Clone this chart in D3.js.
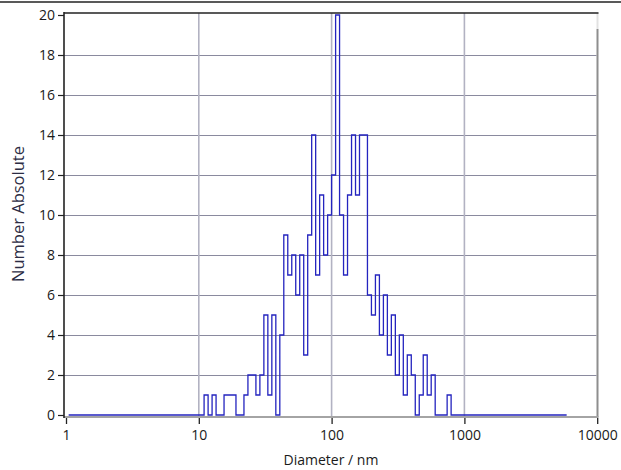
<!DOCTYPE html>
<html>
<head>
<meta charset="utf-8">
<script src="https://cdn.jsdelivr.net/npm/d3@7"></script>
<style>
  html, body { margin: 0; padding: 0; background: #fff; }
  svg { display: block; }
  text { font-family: "Open Sans", "Noto Sans", sans-serif; }
</style>
</head>
<body>
<svg id="chart" width="621" height="470"></svg>
<script>
// ---- Data ----
// Lower edges of the histogram classes (nm), plus the final upper edge
const binEdges = [10.96, 11.75, 12.59, 13.49, 14.45, 15.49, 16.60, 17.78, 19.05, 20.42,
  21.88, 23.44, 25.12, 26.92, 28.84, 30.90, 33.11, 35.48, 38.02, 40.74,
  43.65, 46.77, 50.12, 53.70, 57.54, 61.66, 66.07, 70.79, 75.86, 81.28,
  87.10, 93.33, 100.0, 107.2, 114.8, 123.0, 131.8, 141.3, 151.4, 162.2,
  173.8, 186.2, 199.5, 213.8, 229.1, 245.5, 263.0, 281.8, 302.0, 323.6,
  346.7, 371.5, 398.1, 426.6, 457.1, 489.8, 524.8, 562.3, 602.6, 645.7,
  691.8, 741.3, 794.3];
// Number absolute per class
const counts = [1, 0, 1, 0, 0, 1, 1, 1, 0, 0,
  1, 2, 2, 1, 2, 5, 1, 5, 0, 4,
  9, 7, 8, 6, 8, 3, 9, 14, 7, 11,
  8, 10, 12, 20, 10, 7, 11, 14, 11, 14,
  14, 6, 5, 7, 4, 6, 3, 5, 2, 4,
  1, 3, 2, 0, 1, 3, 1, 2, 0, 0,
  0, 1];
// Extent of the (zero) distribution line
const rangeStartNm = 1.047;
const rangeEndNm = 5888;
const xTicks = [1, 10, 100, 1000, 10000];
const yTicks = [0, 2, 4, 6, 8, 10, 12, 14, 16, 18, 20];
const xTitle = "Diameter / nm";
const yTitle = "Number Absolute";

// ---- Drawing ----
const svg = d3.select("#chart");
const x = d3.scaleLog().domain([1, 10000]).range([66, 597.2]);
const y = d3.scaleLinear().domain([0, 20]).range([415, 15]);

const plotTop = 13, plotBottom = 417, plotLeft = 64, plotRight = 597.5;

// outer top line
svg.append("line").attr("x1", 0).attr("x2", 621).attr("y1", 2).attr("y2", 2)
  .attr("stroke", "#222").attr("stroke-width", 1.5);

// horizontal gridlines
svg.append("g").selectAll("line")
  .data(yTicks.filter(v => v > 0 && v < 20))
  .join("line")
  .attr("x1", plotLeft).attr("x2", plotRight - 1)
  .attr("y1", d => Math.round(y(d)) + 0.5).attr("y2", d => Math.round(y(d)) + 0.5)
  .attr("stroke", "#8a8a9e").attr("stroke-width", 1.2);

// vertical gridlines
svg.append("g").selectAll("line")
  .data(xTicks.filter(v => v > 1 && v < 10000))
  .join("line")
  .attr("x1", d => x(d)).attr("x2", d => x(d))
  .attr("y1", plotTop).attr("y2", plotBottom)
  .attr("stroke", "#b2b2c2").attr("stroke-width", 1.6);

// right border
svg.append("line").attr("x1", plotRight).attr("x2", plotRight).attr("y1", plotTop).attr("y2", 29)
  .attr("stroke", "#e2e2e2").attr("stroke-width", 2);
svg.append("line").attr("x1", plotRight).attr("x2", plotRight).attr("y1", 29).attr("y2", plotBottom)
  .attr("stroke", "#8e8e8e").attr("stroke-width", 2);

// top border
svg.append("line").attr("x1", plotLeft).attr("x2", plotRight + 1).attr("y1", plotTop).attr("y2", plotTop)
  .attr("stroke", "#222").attr("stroke-width", 1.6);

// histogram step line
const pts = [[rangeStartNm, 0]];
binEdges.slice(0, counts.length).forEach((e, i) => pts.push([e, counts[i]]));
pts.push([binEdges[counts.length], 0]);
pts.push([rangeEndNm, 0]);
const line = d3.line().x(d => x(d[0])).y(d => y(d[1])).curve(d3.curveStepAfter);
svg.append("path").datum(pts)
  .attr("d", line)
  .attr("fill", "none")
  .attr("stroke", "#2424bf")
  .attr("stroke-width", 1.3);

// bottom axis
const gx = svg.append("g").attr("transform", `translate(0,${plotBottom})`)
  .call(d3.axisBottom(x).tickValues(xTicks).tickFormat(d3.format("d")).tickSize(7).tickSizeOuter(0).tickPadding(6));
gx.select(".domain").remove();
gx.selectAll(".tick line").attr("stroke", "#222").attr("stroke-width", 1.3).attr("y1", 1);
gx.selectAll(".tick text").attr("fill", "#1a1a1a").style("font-size", "14px");
svg.append("line").attr("x1", plotLeft).attr("x2", plotRight + 1).attr("y1", plotBottom).attr("y2", plotBottom)
  .attr("stroke", "#a4a4a4").attr("stroke-width", 2);

// left axis
const gy = svg.append("g").attr("transform", `translate(${plotLeft},0)`)
  .call(d3.axisLeft(y).tickValues(yTicks).tickFormat(d3.format("d")).tickSize(6).tickSizeOuter(0).tickPadding(3));
gy.select(".domain").remove();
gy.selectAll(".tick line").attr("stroke", "#222").attr("stroke-width", 1.2);
gy.selectAll(".tick text").attr("fill", "#1a1a1a").style("font-size", "14px");
svg.append("line").attr("x1", plotLeft).attr("x2", plotLeft).attr("y1", plotTop - 1).attr("y2", plotBottom + 1)
  .attr("stroke", "#222").attr("stroke-width", 1.6);

// titles
svg.append("text").attr("x", 331).attr("y", 465).attr("text-anchor", "middle")
  .attr("fill", "#1a1a1a").style("font-size", "14px").text(xTitle);
svg.append("text").attr("transform", "translate(24,214) rotate(-90)").attr("text-anchor", "middle")
  .attr("fill", "#2c2c44").style("font-size", "16.5px").text(yTitle);
</script>
</body>
</html>
